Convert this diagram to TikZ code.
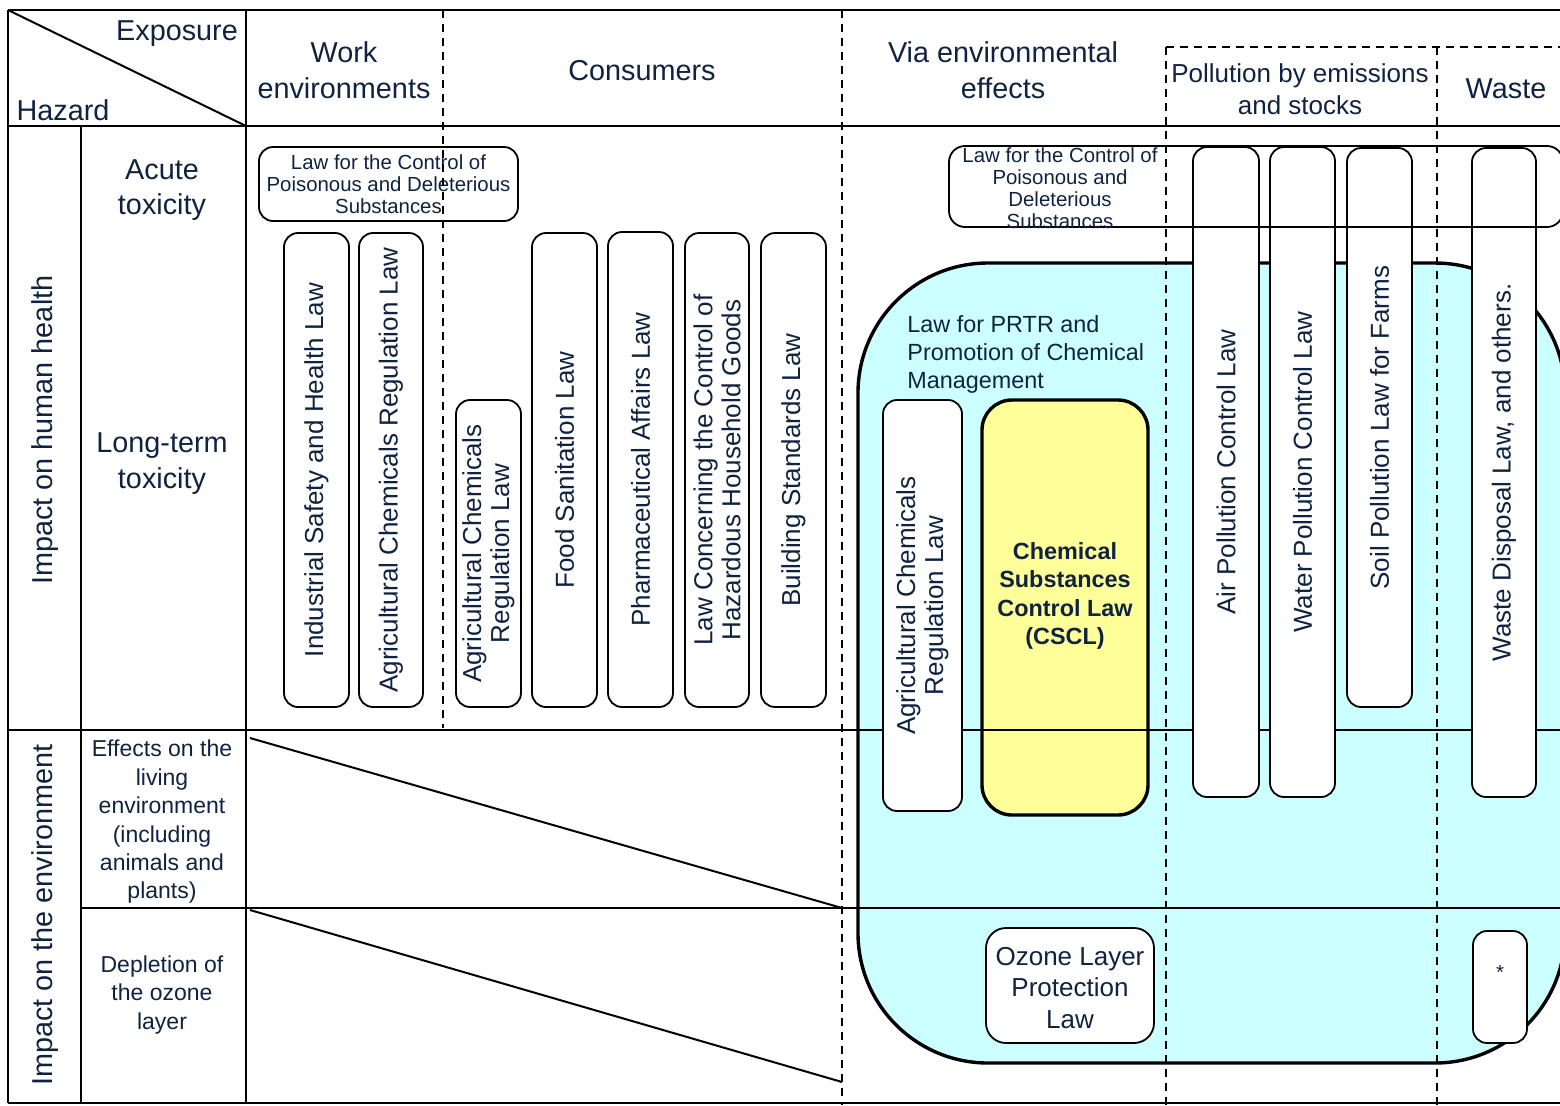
\documentclass[tikz,border=0pt]{standalone}
\usepackage{fontspec}
\setmainfont{Liberation Sans}
\definecolor{ink}{RGB}{15,35,65}
\definecolor{cyanfill}{HTML}{CCFFFF}
\definecolor{yellowfill}{HTML}{FFFF99}
\newcommand{\fHead}{\fontsize{14.4}{17.8}\selectfont}
\newcommand{\fPoll}{\fontsize{13}{16}\selectfont}
\newcommand{\fLaw}{\fontsize{13}{14}\selectfont}
\newcommand{\fSmall}{\fontsize{10.2}{11}\selectfont}
\newcommand{\fMid}{\fontsize{11.5}{14.2}\selectfont}
\newcommand{\fPRTR}{\fontsize{11.7}{14}\selectfont}
\newcommand{\fCSCL}{\bfseries\fontsize{11.7}{14.25}\selectfont}
\newcommand{\fOzone}{\fontsize{13}{15.6}\selectfont}
\tikzset{
  txt/.style={text=ink, align=center, inner sep=0pt},
  tline/.style={line width=1pt, draw=black},
  dline/.style={line width=0.9pt, draw=black, dash pattern=on 4pt off 3pt},
  lawbox/.style={draw=black, line width=0.9pt, fill=white, rounded corners=7pt,
     text=ink, align=center, inner sep=0pt, font=\fLaw},
  vlaw/.style={lawbox, rotate=90},
  cyanreg/.style={draw=black, line width=1.7pt, fill=cyanfill, rounded corners=65pt},
  csclbox/.style={draw=black, line width=1.7pt, fill=yellowfill, rounded corners=15pt, inner sep=0pt},
}
\begin{document}
\begin{tikzpicture}[x=0.5pt,y=-0.5pt]
\useasboundingbox (0,0) rectangle (1560,1105);
\clip (0,0) rectangle (1560,1105);

% cyan region and CSCL fill
\draw[cyanreg] (858,263) rectangle (1565,1063);
\node[csclbox, minimum width=83pt, minimum height=207.5pt] (cscl) at (1065,607.5) {};

% table lines
\draw[tline] (8,10) -- (1560,10);
\draw[tline] (8,126) -- (1560,126);
\draw[tline] (8,730) -- (1560,730);
\draw[tline] (81,908) -- (1560,908);
\draw[tline] (8,1103) -- (1560,1103);
\draw[tline] (8,10) -- (8,1103);
\draw[tline] (81,126) -- (81,1103);
\draw[tline] (246,10) -- (246,1103);
\draw[tline] (8,10) -- (246,126);
\draw[tline] (250,738) -- (842,908);
\draw[tline] (250,910) -- (842,1082);

% header texts
\node[txt, font=\fHead] (expo) at (177,34) {Exposure};
\node[txt, font=\fHead] (haz) at (63,110) {Hazard};
\node[txt, font=\fHead] (work) at (344,70) {Work\\environments};
\node[txt, font=\fHead] (cons) at (642,71) {Consumers};
\node[txt, font=\fHead] (via) at (1003,70) {Via environmental\\effects};
\node[txt, font=\fPoll] (poll) at (1300,89) {Pollution by emissions\\and stocks};
\node[txt, font=\fHead] (wastehd) at (1506,89) {Waste};

% left labels
\node[txt, font=\fHead, rotate=90] (ihh) at (45,430) {Impact on human health};
\node[txt, font=\fHead, rotate=90] (ienv) at (45,915) {Impact on the environment};
\node[txt, font=\fHead] (acute) at (162,190) {Acute\\toxicity};
\node[txt, font=\fHead] (longt) at (162,463.5) {Long-term\\toxicity};
\node[txt, font=\fMid] (effects) at (162,822) {Effects on the\\living\\environment\\(including\\animals and\\plants)};
\node[txt, font=\fMid] (depl) at (162,995) {Depletion of\\the ozone\\layer};

% left law boxes
\node[lawbox, font=\fSmall, minimum width=129.5pt, minimum height=37pt] (poisL) at (388.5,184)
  {Law for the Control of\\Poisonous and Deleterious\\Substances};
\node[vlaw, minimum width=237pt, minimum height=32.5pt] (ind) at (316.5,470) {Industrial Safety and Health Law};
\node[vlaw, minimum width=237pt, minimum height=32pt] (agr1) at (391,470) {Agricultural Chemicals Regulation Law};
\node[vlaw, minimum width=153.5pt, minimum height=32.5pt] (agr2) at (488.5,553.5) {Agricultural Chemicals\\Regulation Law};
\node[vlaw, minimum width=237pt, minimum height=32.5pt] (food) at (564.5,470) {Food Sanitation Law};
\node[vlaw, minimum width=237.5pt, minimum height=32.5pt] (pharm) at (640.5,469.5) {Pharmaceutical Affairs Law};
\node[vlaw, minimum width=237pt, minimum height=32pt] (hhg) at (717,470) {Law Concerning the Control of\\Hazardous Household Goods};
\node[vlaw, minimum width=237pt, minimum height=32.5pt] (bld) at (793.5,470) {Building Standards Law};

% right boxes
\node[txt, font=\fPRTR, anchor=west, align=left] (prtr) at (907,354) {Law for PRTR and\\Promotion of Chemical\\Management};
\node[vlaw, minimum width=205.5pt, minimum height=39.5pt] (agr3) at (922.5,605.5) {Agricultural Chemicals\\Regulation Law};
\node[txt, font=\fCSCL] (csclT) at (1065,596) {Chemical\\Substances\\Control Law\\(CSCL)};
\node[vlaw, minimum width=325pt, minimum height=33pt] (air) at (1226,472) {Air Pollution Control Law};
\node[vlaw, minimum width=325pt, minimum height=32.5pt] (water) at (1302.5,472) {Water Pollution Control Law};
\node[vlaw, minimum width=279.5pt, minimum height=32.5pt] (soil) at (1379.5,427.5) {Soil Pollution Law for Farms};
\node[vlaw, minimum width=324.5pt, minimum height=32pt] (waste) at (1504,472.5) {Waste Disposal Law, and others.};
\node[lawbox, font=\fOzone, rounded corners=10pt, minimum width=84pt, minimum height=57.5pt] (ozone) at (1070,985.5) {};
\node[txt, font=\fOzone] (ozoneT) at (1070,988) {Ozone Layer\\Protection\\Law};
\node[lawbox, minimum width=27pt, minimum height=56pt] (star) at (1500,987) {};
\node[txt, font=\fSmall] (starT) at (1500,972) {*};

% right poison box (outline only, over the tall boxes)
\node[draw=black, line width=0.9pt, rounded corners=8pt, minimum width=307pt, minimum height=40.5pt, inner sep=0pt] (poisR) at (1256,186.5) {};
\node[txt, font=\fSmall] (poisRT) at (1060,188) {Law for the Control of\\Poisonous and\\Deleterious\\Substances};

% dashed lines
\draw[dline] (443,10) -- (443,728);
\draw[dline] (842,10) -- (842,1105);
\draw[dline] (1166,47) -- (1166,1105);
\draw[dline] (1437,47) -- (1437,1105);
\draw[dline] (1166,47) -- (1560,47);
\end{tikzpicture}
\end{document}
